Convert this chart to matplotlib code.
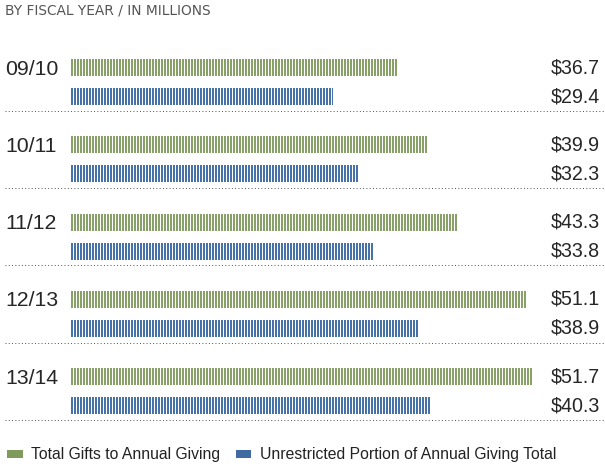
import numpy as np
import matplotlib.pyplot as plt
from matplotlib.patches import Patch

plt.rcParams['font.family'] = ['Liberation Sans', 'DejaVu Sans']
plt.rcParams['hatch.color'] = 'white'
plt.rcParams['hatch.linewidth'] = 0.8

years = ['09/10', '10/11', '11/12', '12/13', '13/14']
total_gifts = [36.7, 39.9, 43.3, 51.1, 51.7]
unrestricted = [29.4, 32.3, 33.8, 38.9, 40.3]
series_names = ['Total Gifts to Annual Giving', 'Unrestricted Portion of Annual Giving Total']

green = '#88a168'
blue = '#4672a9'

# 90 dpi so the 5-line hatch gives a 3px stripe period
DPI = 90
fig = plt.figure(figsize=(605 / DPI, 470 / DPI), dpi=DPI)
W, H = 605, 470

# axes placed in pixels: x=0 at px 70, 8.95 px per million
left_px, right_px = 70, 605
top_px, bot_px = 30, 440
ax = fig.add_axes([left_px / W, 1 - bot_px / H, (right_px - left_px) / W, (bot_px - top_px) / H])
ax.set_xlim(0, (right_px - left_px) / 8.95)
gp = 77.3  # px per group
ax.set_ylim((bot_px - 67.5) / gp, (top_px - 67.5) / gp)
ax.axis('off')

idx = np.arange(len(years))
bar_h = 17 / gp
y_green = idx
y_blue = idx + 29 / gp
y_sep = idx + 43.2 / gp

ax.barh(y_green, total_gifts, height=bar_h, color=green, edgecolor='white',
        linewidth=0, hatch='|||||')
ax.barh(y_blue, unrestricted, height=bar_h, color=blue, edgecolor='white',
        linewidth=0, hatch='|||||')

ytr = ax.get_yaxis_transform()
x0 = -(left_px - 5) / (right_px - left_px)
x_end = (600 - left_px) / (right_px - left_px)
txt = '#262626'
for i in idx:
    ax.text(x0, y_green[i] + 0.02, years[i], transform=ytr, ha='left', va='center',
            fontsize=17, color=txt, clip_on=False)
    ax.text(x_end, y_green[i], '$%.1f' % total_gifts[i], transform=ytr, ha='right',
            va='center', fontsize=15.7, color=txt, clip_on=False)
    ax.text(x_end, y_blue[i], '$%.1f' % unrestricted[i], transform=ytr, ha='right',
            va='center', fontsize=15.7, color=txt, clip_on=False)
    ax.plot([x0, 1], [y_sep[i], y_sep[i]], transform=ytr, clip_on=False,
            color='#444444', lw=0.75, linestyle=(0, (1, 2.5)))

fig.text(5 / W, 1 - 10.5 / H, 'BY FISCAL YEAR / IN MILLIONS', fontsize=11, color='#555555',
         family='DejaVu Sans', ha='left', va='center')

handles = [Patch(facecolor='#7f9a5c', edgecolor='none'),
           Patch(facecolor='#3f6aa2', edgecolor='none')]
fig.legend(handles, series_names, loc='center left', bbox_to_anchor=(7 / W, 1 - 455 / H),
           ncol=2, frameon=False, fontsize=12.6, handlelength=1.0, handleheight=0.45,
           handletextpad=0.55, columnspacing=0.95, borderaxespad=0, borderpad=0,
           labelcolor='#222222')

fig.savefig('out.png', dpi=DPI)
